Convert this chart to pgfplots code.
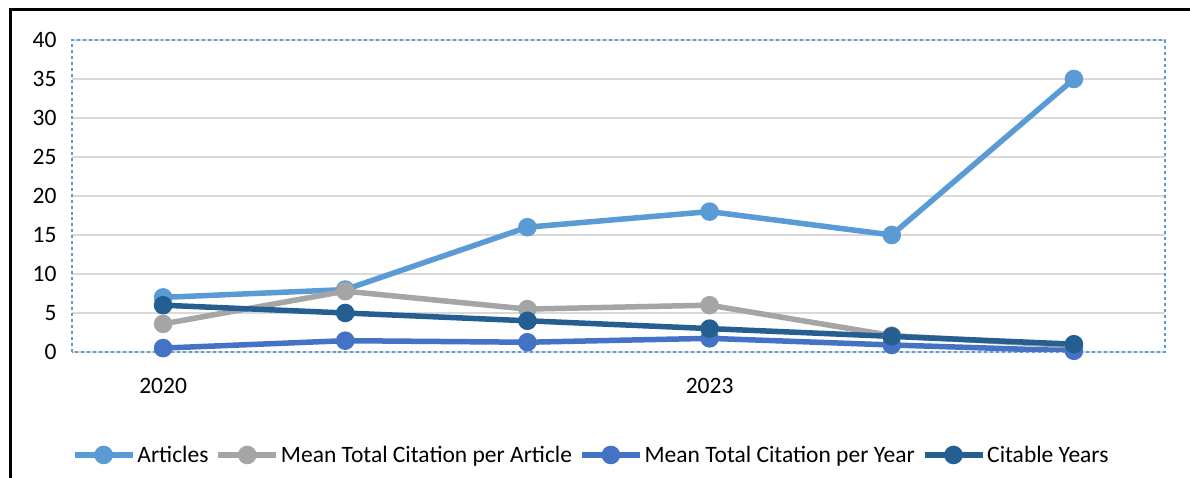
\documentclass[border=0pt]{standalone}
\usepackage{pgfplots}
\pgfplotsset{compat=1.18}
\usepackage{fontspec}
\setmainfont{Carlito}
\definecolor{cArt}{HTML}{5B9BD5}
\definecolor{cMTA}{HTML}{A5A5A5}
\definecolor{cMTY}{HTML}{4472C4}
\definecolor{cCY}{HTML}{255E91}
\definecolor{gridc}{HTML}{D9D9D9}
\begin{document}
\begin{tikzpicture}[x=1bp,y=1bp]
\path[use as bounding box] (0,0) rectangle (1190,478);
\fill[white] (0,0) rectangle (1190,478);
\draw[black,line width=3bp] (10,0) -- (10,468) -- (1190,468);
\begin{axis}[
  at={(72bp,126bp)}, anchor=south west,
  scale only axis, width=1093bp, height=312bp,
  xmin=-0.5, xmax=5.5, ymin=0, ymax=40,
  xtick={0,3}, xticklabels={2020,2023},
  ytick={0,5,...,40},
  major tick length=0pt,
  axis line style={draw=cArt, dashed, line width=1.5bp},
  ymajorgrids, grid style={gridc, line width=1.5bp},
  font=\fontsize{23.5bp}{28bp}\selectfont,
  /pgf/number format/assume math mode=true,
  yticklabel style={xshift=-12bp},
  xticklabel style={yshift=-23bp},
  every axis plot/.append style={line width=5.5bp, mark=*, mark size=6.5bp, mark options={solid}},
  legend columns=-1,
  legend style={at={(0.475,-0.33)}, anchor=center, draw=none, fill=none,
    /tikz/every even column/.append style={column sep=5bp},
    font=\fontsize{23.5bp}{28bp}\selectfont, inner sep=0pt},
  legend image code/.code={\draw[mark repeat=2,mark phase=2,#1] plot coordinates {(0bp,0bp) (29bp,0bp) (58bp,0bp)};},
]
\addplot[color=cArt] coordinates {(0,7) (1,8) (2,16) (3,18) (4,15) (5,35)};
\addlegendentry{Articles}
\addplot[color=cMTA] coordinates {(0,3.6) (1,7.8) (2,5.5) (3,6.0) (4,2.1) (5,0.8)};
\addlegendentry{Mean Total Citation per Article}
\addplot[color=cMTY] coordinates {(0,0.5) (1,1.45) (2,1.25) (3,1.75) (4,0.9) (5,0.15)};
\addlegendentry{Mean Total Citation per Year}
\addplot[color=cCY] coordinates {(0,6) (1,5) (2,4) (3,3) (4,2) (5,1)};
\addlegendentry{Citable Years}
\end{axis}
\end{tikzpicture}
\end{document}
